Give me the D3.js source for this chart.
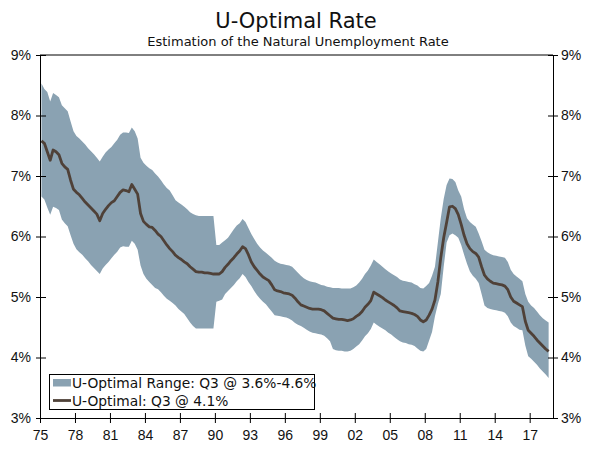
<!DOCTYPE html>
<html>
<head>
<meta charset="utf-8">
<script src="https://cdn.jsdelivr.net/npm/d3@7"></script>
<style>
  body { margin: 0; background: #fff; }
  svg { display: block; font-family: "DejaVu Sans", Verdana, sans-serif; }
</style>
</head>
<body>
<div class="canvas"></div>
<script>
// quarterly estimates, 1975Q1 .. 2018Q3
const firstYear = 1975;

const midRate = [
  7.58, 7.54, 7.40, 7.26,  7.43, 7.40, 7.35, 7.21,  7.15, 7.11, 6.93, 6.78,
  6.73, 6.69, 6.63, 6.57,  6.52, 6.47, 6.42, 6.37,  6.26, 6.38, 6.45, 6.51,
  6.56, 6.59, 6.66, 6.73,  6.77, 6.76, 6.74, 6.86,  6.78, 6.70, 6.38, 6.25,
  6.20, 6.16, 6.15, 6.10,  6.04, 6.00, 5.93, 5.86,  5.80, 5.75, 5.69, 5.65,
  5.62, 5.58, 5.55, 5.50,  5.46, 5.42, 5.41, 5.41,  5.40, 5.40, 5.39, 5.38,
  5.38, 5.38, 5.42, 5.49,  5.54, 5.60, 5.65, 5.71,  5.76, 5.83, 5.80, 5.70,
  5.58, 5.50, 5.44, 5.38,  5.33, 5.30, 5.27, 5.20,  5.12, 5.10, 5.09, 5.07,
  5.06, 5.05, 5.03, 4.98,  4.92, 4.87, 4.85, 4.83,  4.81, 4.80, 4.80, 4.80,
  4.79, 4.77, 4.73, 4.69,  4.65, 4.64, 4.63, 4.63,  4.62, 4.61, 4.62, 4.64,
  4.68, 4.71, 4.76, 4.83,  4.88, 4.94, 5.08, 5.05,  5.02, 4.99, 4.95, 4.92,
  4.89, 4.86, 4.82, 4.77,  4.76, 4.75, 4.74, 4.73,  4.71, 4.68, 4.62, 4.59,
  4.62, 4.70, 4.80, 4.95,  5.25, 5.65, 5.98, 6.23,  6.49, 6.50, 6.46, 6.36,
  6.20, 6.02, 5.88, 5.80,  5.75, 5.72, 5.66, 5.50,  5.36, 5.30, 5.26, 5.23,
  5.22, 5.21, 5.20, 5.18,  5.12, 5.00, 4.93, 4.90,  4.87, 4.84, 4.60, 4.45,
  4.40, 4.35, 4.29, 4.24,  4.19, 4.14, 4.10
];

const upperRate = [
  8.53, 8.44, 8.39, 8.23,  8.37, 8.34, 8.30, 8.17,  8.12, 8.07, 7.90, 7.74,
  7.66, 7.62, 7.57, 7.52,  7.46, 7.41, 7.36, 7.30,  7.24, 7.32, 7.39, 7.44,
  7.48, 7.54, 7.60, 7.68,  7.72, 7.72, 7.71, 7.80,  7.74, 7.62, 7.30, 7.22,
  7.17, 7.13, 7.10, 7.04,  6.99, 6.93, 6.86, 6.80,  6.76, 6.68, 6.60, 6.56,
  6.53, 6.49, 6.45, 6.40,  6.37, 6.35, 6.34, 6.34,  6.34, 6.34, 6.34, 6.34,
  5.86, 5.86, 5.90, 5.94,  5.98, 6.05, 6.12, 6.18,  6.22, 6.29, 6.24, 6.14,
  6.04, 5.96, 5.88, 5.82,  5.77, 5.73, 5.69, 5.65,  5.60, 5.57, 5.55, 5.54,
  5.53, 5.52, 5.50, 5.45,  5.40, 5.35, 5.31, 5.28,  5.26, 5.25, 5.24, 5.22,
  5.20, 5.19, 5.17, 5.16,  5.15, 5.15, 5.15, 5.14,  5.14, 5.14, 5.14, 5.16,
  5.19, 5.24, 5.30, 5.38,  5.44, 5.52, 5.62, 5.58,  5.54, 5.50, 5.46, 5.42,
  5.39, 5.36, 5.33, 5.29,  5.27, 5.26, 5.25, 5.24,  5.21, 5.19, 5.15, 5.14,
  5.18, 5.23, 5.35, 5.50,  5.90, 6.30, 6.62, 6.85,  6.96, 6.95, 6.90, 6.76,
  6.66, 6.45, 6.30, 6.24,  6.20, 6.16, 6.05, 5.92,  5.78, 5.74, 5.71, 5.69,
  5.68, 5.67, 5.66, 5.65,  5.58, 5.45, 5.38, 5.34,  5.30, 5.26, 5.05, 4.92,
  4.86, 4.82, 4.76, 4.70,  4.65, 4.61, 4.58
];

const lowerRate = [
  6.66, 6.61, 6.48, 6.36,  6.49, 6.47, 6.44, 6.28,  6.22, 6.17, 6.02, 5.88,
  5.79, 5.74, 5.70, 5.64,  5.59, 5.53, 5.48, 5.43,  5.38, 5.47, 5.53, 5.58,
  5.64, 5.70, 5.75, 5.82,  5.84, 5.83, 5.83, 5.93,  5.88, 5.78, 5.52, 5.38,
  5.30, 5.25, 5.20, 5.15,  5.13, 5.08, 5.02, 4.97,  4.94, 4.90, 4.86, 4.80,
  4.76, 4.72, 4.65, 4.58,  4.52, 4.48, 4.48, 4.48,  4.48, 4.48, 4.48, 4.48,
  4.92, 4.94, 4.96, 5.05,  5.10, 5.15, 5.20, 5.26,  5.31, 5.38, 5.33, 5.25,
  5.18, 5.10, 5.03, 4.97,  4.92, 4.88, 4.82, 4.76,  4.70, 4.69, 4.68, 4.67,
  4.66, 4.64, 4.61, 4.57,  4.54, 4.52, 4.49, 4.46,  4.43, 4.41, 4.40, 4.39,
  4.38, 4.36, 4.32, 4.27,  4.14, 4.12, 4.11, 4.11,  4.10, 4.10, 4.11, 4.14,
  4.18, 4.22, 4.28, 4.35,  4.40, 4.47, 4.58, 4.54,  4.51, 4.48, 4.45, 4.41,
  4.38, 4.34, 4.30, 4.27,  4.25, 4.24, 4.22, 4.21,  4.19, 4.15, 4.11, 4.10,
  4.14, 4.28, 4.42, 4.68,  4.88, 5.05, 5.50, 5.90,  6.02, 6.05, 6.02, 5.98,
  5.86, 5.70, 5.55, 5.42,  5.35, 5.30, 5.23, 5.05,  4.86, 4.82, 4.80, 4.79,
  4.78, 4.77, 4.76, 4.74,  4.68, 4.58, 4.52, 4.49,  4.46, 4.45, 4.20, 4.02,
  3.98, 3.93, 3.88, 3.82,  3.77, 3.72, 3.66
];

const yearTicks = [1975, 1978, 1981, 1984, 1987, 1990, 1993, 1996, 1999, 2002, 2005, 2008, 2011, 2014, 2017];
const rateTicks = [3, 4, 5, 6, 7, 8, 9];
const legendLabels = ['U-Optimal Range: Q3 @ 3.6%-4.6%', 'U-Optimal: Q3 @ 4.1%'];

const bandColor = '#8aa2b2';
const lineColor = '#4f4138';

// one row per quarter, dated at the middle of the quarter
const rows = midRate.map((m, i) => ({
  t: firstYear + i / 4 + 0.125,
  mid: m,
  hi: upperRate[i],
  lo: lowerRate[i]
}));

const svg = d3.select('.canvas')
  .append('svg')
  .attr('width', 600)
  .attr('height', 453);

const x = d3.scaleLinear().domain([1975, 2019]).range([40, 553]);
const y = d3.scaleLinear().domain([3, 9]).range([418, 55]);

// titles
svg.append('text')
  .attr('x', 296).attr('y', 28)
  .attr('text-anchor', 'middle')
  .style('font-size', '21px')
  .attr('fill', '#111')
  .text('U-Optimal Rate');

svg.append('text')
  .attr('x', 298).attr('y', 45.5)
  .attr('text-anchor', 'middle')
  .style('font-size', '13px')
  .attr('fill', '#111')
  .text('Estimation of the Natural Unemployment Rate');

// band and line
const area = d3.area()
  .x(d => x(d.t))
  .y0(d => y(d.lo))
  .y1(d => y(d.hi));

svg.append('path')
  .datum(rows)
  .attr('d', area)
  .attr('fill', bandColor);

const line = d3.line()
  .x(d => x(d.t))
  .y(d => y(d.mid));

svg.append('path')
  .datum(rows)
  .attr('d', line)
  .attr('fill', 'none')
  .attr('stroke', lineColor)
  .attr('stroke-width', 2.8)
  .attr('stroke-linejoin', 'round');

// axes
const pct = d => d + '%';

const left = svg.append('g')
  .attr('transform', 'translate(40,0)')
  .call(d3.axisLeft(y).tickValues(rateTicks).tickFormat(pct).tickSize(4).tickSizeOuter(0).tickPadding(5));
left.selectAll('.tick line').attr('x1', 6);

const right = svg.append('g')
  .attr('transform', 'translate(553,0)')
  .call(d3.axisRight(y).tickValues(rateTicks).tickFormat(pct).tickSize(5).tickSizeOuter(0).tickPadding(3));
right.selectAll('.tick line').attr('x1', -5);

const bottom = svg.append('g')
  .attr('transform', 'translate(0,418)')
  .call(d3.axisBottom(x).tickValues(yearTicks).tickFormat(d => String(d).slice(2)).tickSize(5).tickSizeOuter(0).tickPadding(7));
bottom.selectAll('.tick line').attr('y1', -5);

svg.append('line')
  .attr('x1', 40).attr('x2', 553)
  .attr('y1', 55).attr('y2', 55)
  .attr('stroke', '#000');

svg.selectAll('.tick text')
  .style('font-size', '14px')
  .attr('fill', '#111');
svg.selectAll('.domain, .tick line').attr('stroke', '#000');

// legend
const legend = svg.append('g');
legend.append('rect')
  .attr('x', 49.5).attr('y', 374.5)
  .attr('width', 265).attr('height', 35)
  .attr('fill', '#fff')
  .attr('stroke', '#000');

legend.append('rect')
  .attr('x', 53).attr('y', 379)
  .attr('width', 18).attr('height', 7.5)
  .attr('fill', bandColor);

legend.append('line')
  .attr('x1', 53).attr('x2', 71)
  .attr('y1', 400.5).attr('y2', 400.5)
  .attr('stroke', lineColor)
  .attr('stroke-width', 2.8);

legend.selectAll('text.lab')
  .data(legendLabels)
  .enter()
  .append('text')
  .attr('class', 'lab')
  .attr('x', 72)
  .attr('y', (d, i) => 387.8 + i * 18)
  .style('font-size', '13.8px')
  .attr('fill', '#111')
  .text(d => d);
</script>
</body>
</html>
